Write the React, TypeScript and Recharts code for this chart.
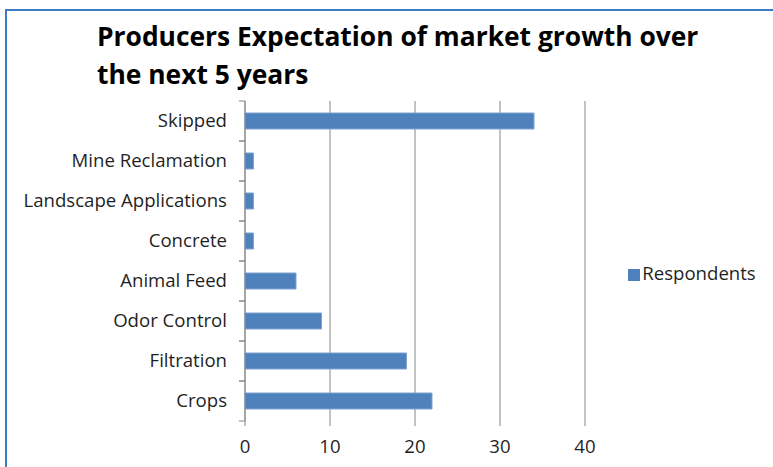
import { BarChart, Bar, XAxis, YAxis, CartesianGrid, Legend } from 'recharts'

const categories = [
  'Skipped',
  'Mine Reclamation',
  'Landscape Applications',
  'Concrete',
  'Animal Feed',
  'Odor Control',
  'Filtration',
  'Crops',
]
const respondents = [34, 1, 1, 1, 6, 9, 19, 22]
const xTicks = [0, 10, 20, 30, 40]

const chartData = categories.map((name, i) => ({ name, Respondents: respondents[i] }))

const FONT = '"Open Sans", Lato, sans-serif'
const PLOT_TOP = 101
const PLOT_BOTTOM = 421
const BAND = (PLOT_BOTTOM - PLOT_TOP) / categories.length

function CategoryTick(props: any) {
  const { x, y, payload } = props
  return (
    <g>
      <line x1={x + 2} x2={x + 8} y1={y - BAND / 2} y2={y - BAND / 2} stroke="#868686" />
      <line x1={x + 2} x2={x + 8} y1={y + BAND / 2} y2={y + BAND / 2} stroke="#868686" />
      <text x={x - 10} y={y} dy={6} textAnchor="end" fontSize={18.6} fill="#1f1f1f" fontFamily={FONT}>
        {payload.value}
      </text>
    </g>
  )
}

export default function App() {
  return (
    <div style={{ position: 'absolute', left: 0, top: 0, width: 773, height: 467, background: '#fff', overflow: 'hidden' }}>
      <div
        style={{
          position: 'absolute',
          left: 5,
          top: 9,
          width: 780,
          height: 470,
          borderTop: '2px solid #3C7DC4',
          borderLeft: '2px solid #3C7DC4',
        }}
      />
      <div
        style={{
          position: 'absolute',
          left: 97,
          top: 17,
          fontFamily: FONT,
          fontWeight: 700,
          fontSize: 26.4,
          lineHeight: '38px',
          color: '#000',
          width: 670,
        }}
      >
        Producers Expectation of market growth over
        <br />
        the next 5 years
      </div>
      <BarChart
        width={773}
        height={467}
        data={chartData}
        layout="vertical"
        margin={{ top: PLOT_TOP, right: 188, bottom: 16, left: 0 }}
        style={{ position: 'absolute', left: 0, top: 0 }}
      >
        <CartesianGrid horizontal={false} stroke="#868686" />
        <XAxis
          type="number"
          domain={[0, 40]}
          ticks={xTicks}
          axisLine={false}
          tickLine={{ stroke: '#868686' }}
          tickSize={5}
          height={30}
          tick={{ fontSize: 18.6, fill: '#1f1f1f', fontFamily: FONT, dy: 12 }}
        />
        <YAxis
          type="category"
          dataKey="name"
          width={245}
          axisLine={{ stroke: '#868686' }}
          tickLine={false}
          tick={<CategoryTick />}
        />
        <Legend
          layout="horizontal"
          verticalAlign="middle"
          align="center"
          iconType="square"
          iconSize={12}
          wrapperStyle={{ left: 621, top: 260, width: 152, fontFamily: FONT, fontSize: 18.6, textAlign: 'left' }}
          formatter={(v: string) => <span style={{ color: '#1f1f1f', marginLeft: -2 }}>{v}</span>}
        />
        <Bar
          dataKey="Respondents"
          fill="#4F81BD"
          stroke="#7FA3D3"
          barSize={16}
          isAnimationActive={false}
        />
      </BarChart>
    </div>
  )
}
